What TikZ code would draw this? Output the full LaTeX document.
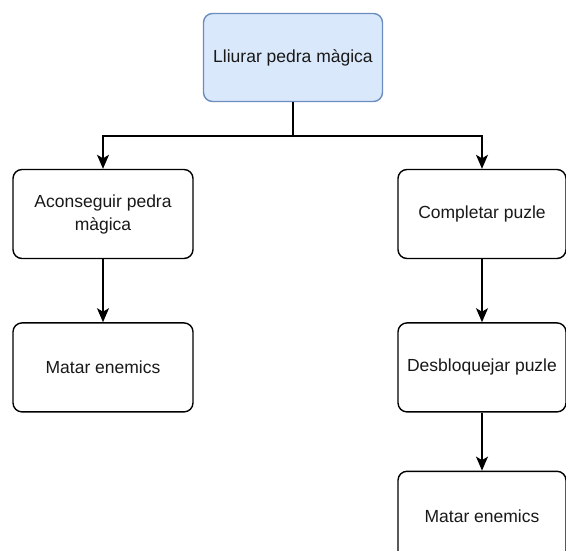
\documentclass[tikz,border=0pt]{standalone}
\usepackage{fontspec}
\setmainfont{Liberation Sans}
\usepackage{xcolor}
\usepackage{tikz}
\usetikzlibrary{arrows.meta,positioning}
\definecolor{goalfill}{HTML}{DAE8FC}
\definecolor{goaldraw}{HTML}{6C8EBF}
\tikzset{
  task/.style={draw, line width=1.4pt, rounded corners=9pt, align=center, minimum width=180pt, minimum height=89pt, fill=white, text=black!90, font=\fontsize{17.5pt}{23pt}\selectfont},
  goal/.style={task, draw=goaldraw, fill=goalfill, minimum width=179pt, minimum height=88pt},
  subtask/.style={task, minimum width=168pt},
  arrow/.style={-{Stealth[length=14pt,width=12pt,inset=3.5pt]}, line width=1.4pt},
  link/.style={line width=1.4pt}
}
\begin{document}
\begin{tikzpicture}[x=1pt, y=-1pt]
  \clip (0,0) rectangle (566,551);
  \fill[white] (0,0) rectangle (566,551);

  \node[goal] (lliurar) at (293,57.5) {Lliurar pedra màgica};
  \node[task] (aconseguir) at (103,214) {Aconseguir pedra\\màgica};
  \node[subtask] (completar) at (482,214) {Completar puzle};
  \node[task, below=63pt of aconseguir] (matarA) {Matar enemics};
  \node[subtask, below=63pt of completar] (desbloquejar) {Desbloquejar puzle};
  \node[subtask, below=58pt of desbloquejar] (matarB) {Matar enemics};

  \coordinate (split) at (293,136);
  \draw[link] (lliurar) -- (split);
  \draw[arrow] (split) -| (aconseguir);
  \draw[arrow] (split) -| (completar);
  \draw[arrow] (aconseguir) -- (matarA);
  \draw[arrow] (completar) -- (desbloquejar);
  \draw[arrow] (desbloquejar) -- (matarB);
\end{tikzpicture}
\end{document}
